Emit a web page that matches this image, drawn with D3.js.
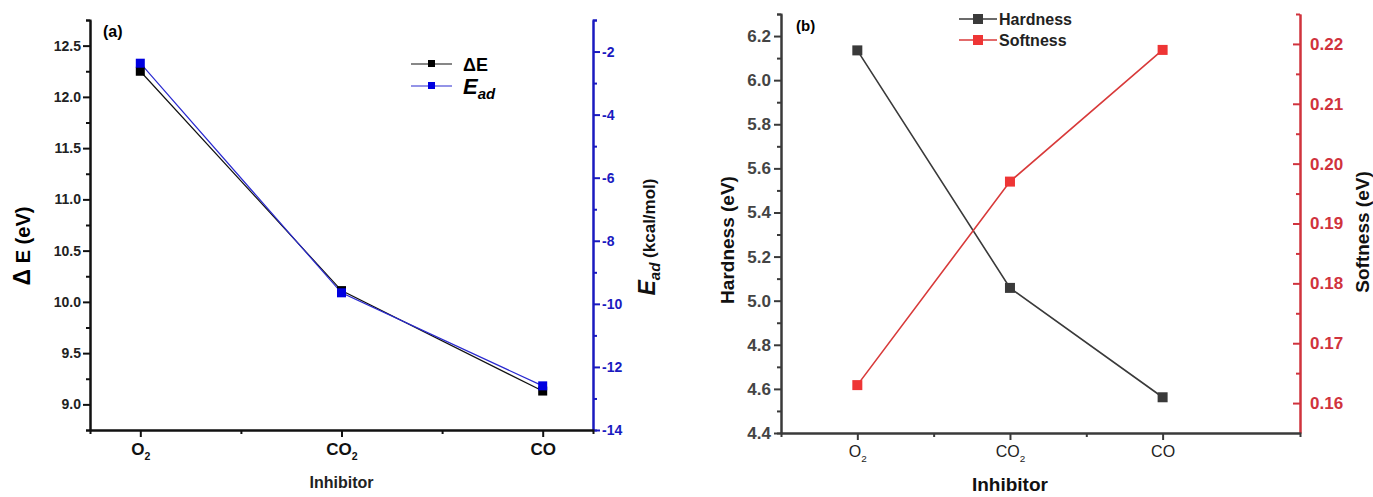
<!DOCTYPE html>
<html>
<head>
<meta charset="utf-8">
<script src="https://cdn.jsdelivr.net/npm/d3@7"></script>
<style>
  body { margin: 0; background: #fff; }
  text { font-family: "Liberation Sans", Arial, sans-serif; }
</style>
</head>
<body>
<svg id="chart" width="1373" height="497"></svg>
<script>
'use strict'

// data
var inhibitors = ["O2", "CO2", "CO"]
var deltaE = [12.25, 10.11, 9.13]        // eV, left axis (a)
var eAd = [-2.37, -9.65, -12.6]          // kcal/mol, right axis (a)
var hardness = [6.135, 5.058, 4.562]     // eV, left axis (b)
var softness = [0.163, 0.197, 0.219]     // eV, right axis (b)

var deltaETicks = [9.0, 9.5, 10.0, 10.5, 11.0, 11.5, 12.0, 12.5]
var eAdTicks = [-14, -12, -10, -8, -6, -4, -2]
var hardTicks = [4.4, 4.6, 4.8, 5.0, 5.2, 5.4, 5.6, 5.8, 6.0, 6.2]
var softTicks = [0.16, 0.17, 0.18, 0.19, 0.20, 0.21, 0.22]

var svg = d3.select("#chart")

// write a label like CO2 with its digit as subscript
function chemLabel(sel, name, size) {
  var m = name.match(/^([A-Za-z]+)(\d*)$/)
  sel.text(null)
  sel.append("tspan").text(m[1])
  if (m[2]) {
    sel.append("tspan").attr("dy", size * 0.3).style("font-size", (size * 0.62) + "px").text(m[2])
  }
}

function styleAxis(g, color, width) {
  g.select(".domain").attr("stroke", color).attr("stroke-width", width)
  g.selectAll(".tick line").attr("stroke", color).attr("stroke-width", width)
}

// ---------- panel (a) ----------
var pa = { left: 90, right: 593, top: 20, bottom: 430 }
var xA = d3.scaleLinear().domain([-0.25, 2.25]).range([pa.left, pa.right])
var yA = d3.scaleLinear().domain([8.75, 12.75]).range([pa.bottom, pa.top])
var yA2 = d3.scaleLinear().domain([-14, -1]).range([pa.bottom, pa.top])

var ga = svg.append("g").attr("class", "panel-a")

// minor ticks first
ga.append("g").attr("transform", "translate(" + pa.left + ",0)")
  .call(d3.axisLeft(yA).tickValues(d3.range(8.75, 12.8, 0.5)).tickSize(4).tickFormat(""))
  .call(g => styleAxis(g, "#111", 2))
var axA = ga.append("g").attr("transform", "translate(" + pa.left + ",0)")
  .call(d3.axisLeft(yA).tickValues(deltaETicks).tickSize(7).tickSizeOuter(0).tickFormat(d3.format(".1f")))
  .call(g => styleAxis(g, "#111", 2))
axA.selectAll(".tick text").attr("x", -9).style("font-size", "14px").style("font-weight", "bold").attr("fill", "#222")

ga.append("g").attr("transform", "translate(" + pa.right + ",0)")
  .call(d3.axisRight(yA2).tickValues(d3.range(-13, 0, 2)).tickSize(4).tickFormat(""))
  .call(g => styleAxis(g, "#1a1ac0", 2))
var axA2 = ga.append("g").attr("transform", "translate(" + pa.right + ",0)")
  .call(d3.axisRight(yA2).tickValues(eAdTicks).tickSize(7).tickSizeOuter(0).tickFormat(d => String(d)))
  .call(g => styleAxis(g, "#1a1ac0", 2))
axA2.selectAll(".tick text").attr("x", 9).style("font-size", "14px").style("font-weight", "bold").attr("fill", "#1a1ac0")

ga.append("g").attr("transform", "translate(0," + pa.bottom + ")")
  .call(d3.axisBottom(xA).tickValues([0.5, 1.5]).tickSize(4).tickFormat(""))
  .call(g => styleAxis(g, "#111", 2))
var axAx = ga.append("g").attr("transform", "translate(0," + pa.bottom + ")")
  .call(d3.axisBottom(xA).tickValues([0, 1, 2]).tickSize(7).tickSizeOuter(0))
  .call(g => styleAxis(g, "#111", 2))
axAx.selectAll(".tick text").attr("y", 13).style("font-size", "17px").style("font-weight", "bold").attr("fill", "#111")
  .each(function(d) { chemLabel(d3.select(this), inhibitors[d], 17) })

var lineA = d3.line().x((d, i) => xA(i)).y(d => yA(d))
var lineA2 = d3.line().x((d, i) => xA(i)).y(d => yA2(d))

ga.append("path").datum(deltaE).attr("d", lineA).attr("fill", "none").attr("stroke", "#111").attr("stroke-width", 1.2)
ga.append("path").datum(eAd).attr("d", lineA2).attr("fill", "none").attr("stroke", "#2a2ad0").attr("stroke-width", 1.2)

ga.selectAll("rect.de").data(deltaE).enter().append("rect").attr("class", "de")
  .attr("x", (d, i) => xA(i) - 4.5).attr("y", d => yA(d) - 4.5)
  .attr("width", 9).attr("height", 9).attr("fill", "#000")
ga.selectAll("rect.ead").data(eAd).enter().append("rect").attr("class", "ead")
  .attr("x", (d, i) => xA(i) - 4.5).attr("y", d => yA2(d) - 4.5)
  .attr("width", 9).attr("height", 9).attr("fill", "#0000e0")

ga.append("text").attr("x", 103).attr("y", 37).style("font-size", "16px").style("font-weight", "bold").text("(a)")

// legend (a)
var legA = ga.append("g").attr("transform", "translate(411,0)")
legA.append("line").attr("x1", 0).attr("x2", 41).attr("y1", 64).attr("y2", 64).attr("stroke", "#111").attr("stroke-width", 1.2)
legA.append("rect").attr("x", 17).attr("y", 60).attr("width", 7).attr("height", 7).attr("fill", "#000")
legA.append("text").attr("x", 52).attr("y", 71).style("font-size", "18px").style("font-weight", "bold").text("ΔE")
legA.append("line").attr("x1", 0).attr("x2", 41).attr("y1", 86).attr("y2", 86).attr("stroke", "#2a2ad0").attr("stroke-width", 1.2)
legA.append("rect").attr("x", 17).attr("y", 82).attr("width", 7).attr("height", 7).attr("fill", "#0000e0")
var ltA = legA.append("text").attr("x", 52).attr("y", 94).style("font-weight", "bold").style("font-style", "italic")
ltA.append("tspan").style("font-size", "22px").text("E")
ltA.append("tspan").attr("dy", 5).style("font-size", "15px").text("ad")

// axis titles (a)
ga.append("text").attr("transform", "translate(30,246) rotate(-90)").attr("text-anchor", "middle")
  .style("font-size", "20px").style("font-weight", "bold")
  .call(t => { t.append("tspan").style("font-size", "23px").text("Δ"); t.append("tspan").text(" E (eV)") })
var tA2 = ga.append("text").attr("transform", "translate(655,237) rotate(-90)").attr("text-anchor", "middle")
  .style("font-weight", "bold").attr("fill", "#111")
tA2.append("tspan").style("font-size", "23px").style("font-style", "italic").text("E")
tA2.append("tspan").attr("dy", 5).style("font-size", "15px").style("font-style", "italic").text("ad")
tA2.append("tspan").attr("dy", -5).style("font-size", "17px").text(" (kcal/mol)")

ga.append("text").attr("x", xA(1)).attr("y", 488).attr("text-anchor", "middle")
  .style("font-size", "16px").style("font-weight", "bold").attr("fill", "#222").text("Inhibitor")

// ---------- panel (b) ----------
var pb = { left: 781, right: 1300, top: 14, bottom: 433 }
var xB = d3.scaleLinear().domain([-0.5, 2.9]).range([pb.left, pb.right])
var yB = d3.scaleLinear().domain([4.4, 6.3]).range([pb.bottom, pb.top])
var yB2 = d3.scaleLinear().domain([0.155, 0.225]).range([pb.bottom, pb.top])
var grey = "#3a3a3a", red = "#d0333d"

var gb = svg.append("g").attr("class", "panel-b")

gb.append("g").attr("transform", "translate(" + pb.left + ",0)")
  .call(d3.axisLeft(yB).tickValues(d3.range(4.5, 6.35, 0.2)).tickSize(4).tickFormat(""))
  .call(g => styleAxis(g, grey, 2))
var axB = gb.append("g").attr("transform", "translate(" + pb.left + ",0)")
  .call(d3.axisLeft(yB).tickValues(hardTicks).tickSize(7).tickSizeOuter(0).tickFormat(d3.format(".1f")))
  .call(g => styleAxis(g, grey, 2))
axB.selectAll(".tick text").attr("x", -10).style("font-size", "17px").style("font-weight", "bold").attr("fill", "#444")

gb.append("g").attr("transform", "translate(" + pb.right + ",0)")
  .call(d3.axisRight(yB2).tickValues(d3.range(0.165, 0.2255, 0.01)).tickSizeInner(-4).tickSizeOuter(0).tickFormat(""))
  .call(g => styleAxis(g, red, 2))
var axB2 = gb.append("g").attr("transform", "translate(" + pb.right + ",0)")
  .call(d3.axisRight(yB2).tickValues(softTicks).tickSizeInner(-7).tickSizeOuter(0).tickFormat(d3.format(".2f")))
  .call(g => styleAxis(g, red, 2))
axB2.selectAll(".tick text").attr("x", 10).style("font-size", "17px").style("font-weight", "bold").attr("fill", red)

gb.append("g").attr("transform", "translate(0," + pb.bottom + ")")
  .call(d3.axisBottom(xB).tickValues([0.5, 1.5]).tickSize(4).tickFormat(""))
  .call(g => styleAxis(g, grey, 2))
var axBx = gb.append("g").attr("transform", "translate(0," + pb.bottom + ")")
  .call(d3.axisBottom(xB).tickValues([0, 1, 2]).tickSize(7).tickSizeOuter(0))
  .call(g => styleAxis(g, grey, 2))
axBx.selectAll(".tick text").attr("y", 13).style("font-size", "16px").attr("fill", "#222")
  .each(function(d) { chemLabel(d3.select(this), inhibitors[d], 16) })

var lineB = d3.line().x((d, i) => xB(i)).y(d => yB(d))
var lineB2 = d3.line().x((d, i) => xB(i)).y(d => yB2(d))
gb.append("path").datum(hardness).attr("d", lineB).attr("fill", "none").attr("stroke", grey).attr("stroke-width", 1.6)
gb.append("path").datum(softness).attr("d", lineB2).attr("fill", "none").attr("stroke", "#d83a3a").attr("stroke-width", 1.6)

gb.selectAll("rect.hd").data(hardness).enter().append("rect").attr("class", "hd")
  .attr("x", (d, i) => xB(i) - 5).attr("y", d => yB(d) - 5)
  .attr("width", 10).attr("height", 10).attr("fill", grey)
gb.selectAll("rect.sf").data(softness).enter().append("rect").attr("class", "sf")
  .attr("x", (d, i) => xB(i) - 5).attr("y", d => yB2(d) - 5)
  .attr("width", 10).attr("height", 10).attr("fill", "#ee3535")

gb.append("text").attr("x", 796).attr("y", 31).style("font-size", "15px").style("font-weight", "bold").text("(b)")

// legend (b)
var legB = gb.append("g").attr("transform", "translate(959,0)")
legB.append("line").attr("x1", 0).attr("x2", 38).attr("y1", 19).attr("y2", 19).attr("stroke", grey).attr("stroke-width", 1.6)
legB.append("rect").attr("x", 14).attr("y", 14).attr("width", 10).attr("height", 10).attr("fill", grey)
legB.append("text").attr("x", 40).attr("y", 25).style("font-size", "16px").style("font-weight", "bold").attr("fill", "#222").text("Hardness")
legB.append("line").attr("x1", 0).attr("x2", 38).attr("y1", 40).attr("y2", 40).attr("stroke", "#d83a3a").attr("stroke-width", 1.6)
legB.append("rect").attr("x", 14).attr("y", 35).attr("width", 10).attr("height", 10).attr("fill", "#ee3535")
legB.append("text").attr("x", 40).attr("y", 46).style("font-size", "16px").style("font-weight", "bold").attr("fill", "#222").text("Softness")

gb.append("text").attr("transform", "translate(734,240) rotate(-90)").attr("text-anchor", "middle")
  .style("font-size", "19px").style("font-weight", "bold").attr("fill", "#111").text("Hardness (eV)")
gb.append("text").attr("transform", "translate(1369,232) rotate(-90)").attr("text-anchor", "middle")
  .style("font-size", "19px").style("font-weight", "bold").attr("fill", "#111").text("Softness (eV)")
gb.append("text").attr("x", xB(1)).attr("y", 491).attr("text-anchor", "middle")
  .style("font-size", "19px").style("font-weight", "bold").attr("fill", "#111").text("Inhibitor")
</script>
</body>
</html>
